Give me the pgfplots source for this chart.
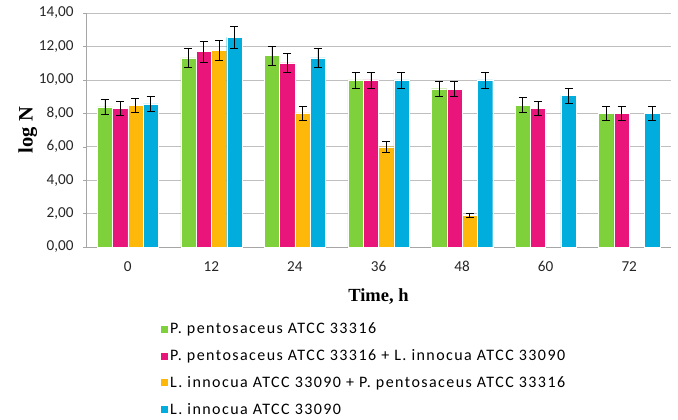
\documentclass[border=0pt]{standalone}
\usepackage{pgfplots}
\pgfplotsset{compat=1.18}
\usepackage{fontspec}
\setmainfont{Carlito}
\newfontfamily\titlefont{Liberation Serif}
\newfontfamily\legfont[LetterSpace=9]{Carlito}
\definecolor{cgreen}{HTML}{7FD13B}
\definecolor{cpink}{HTML}{EA157A}
\definecolor{cyellow}{HTML}{FEB80A}
\definecolor{cblue}{HTML}{00ADDC}
\definecolor{gridgray}{HTML}{BFBFBF}
\definecolor{axgray}{HTML}{A6A6A6}
\begin{document}
\begin{tikzpicture}
\useasboundingbox (-86bp,-173bp) rectangle (592bp,247bp);
\begin{axis}[
  at={(0,0)}, anchor=south west,
  scale only axis, width=585bp, height=234bp,
  ybar=0pt, bar width=15.3bp,
  xmin=-0.5, xmax=6.5, ymin=0, ymax=14,
  xtick={0,1,2,3,4,5,6},
  xticklabels={0,12,24,36,48,60,72},
  extra x ticks={-0.5,0.5,1.5,2.5,3.5,4.5,5.5,6.5},
  extra x tick labels={},
  extra x tick style={major tick length=6bp, tick style={axgray}, grid=none},
  major x tick style={draw=none},
  ytick={0,2,4,6,8,10,12,14},
  axis x line*=bottom, axis y line*=left,
  axis line style={axgray, line width=0.6pt, -},
  tick align=outside,
  major tick length=3bp,
  ytick style={axgray},
  ymajorgrids, grid style={gridgray, line width=0.7pt},
  /pgf/number format/assume math mode=true,
  yticklabel style={/pgf/number format/.cd, fixed, fixed zerofill, precision=2, use comma, /tikz/.cd, xshift=-6bp},
  xticklabel style={yshift=-8bp},
  every tick label/.append style={font=\fontsize{15.2bp}{18bp}\selectfont, color=black!85},
  ylabel={\titlefont\bfseries log N},
  xlabel={\titlefont\bfseries Time, h},
  ylabel style={yshift=-5bp, font=\fontsize{20.5bp}{23bp}\selectfont},
  xlabel style={yshift=-1bp, font=\fontsize{18.5bp}{21bp}\selectfont},
  legend style={at={(0,0)}, anchor=north west, xshift=72bp, yshift=-72bp, draw=none,
    font=\fontsize{16bp}{18bp}\legfont,
    nodes={font=\fontsize{16bp}{18bp}\legfont},
    row sep=10.3bp,
    /tikz/every even column/.append style={column sep=8bp}},
  legend cell align=left,
  legend image code/.code={\fill[#1,draw=none] (0bp,-3.5bp) rectangle (7bp,3.5bp);},
  error bars/y dir=both, error bars/y explicit,
  error bars/error bar style={black, line width=0.6pt},
  error bars/error mark options={rotate=90, mark size=4bp, line width=0.6pt, black},
]
\addplot[fill=cgreen, draw=white, line width=0.3pt] coordinates {
 (0,8.38) +- (0,0.43) (1,11.31) +- (0,0.55) (2,11.45) +- (0,0.57) (3,10.0) +- (0,0.48)
 (4,9.47) +- (0,0.46) (5,8.48) +- (0,0.45) (6,8.0) +- (0,0.41)};
\addplot[fill=cpink, draw=white, line width=0.3pt] coordinates {
 (0,8.30) +- (0,0.42) (1,11.69) +- (0,0.62) (2,11.01) +- (0,0.56) (3,10.0) +- (0,0.48)
 (4,9.45) +- (0,0.46) (5,8.30) +- (0,0.42) (6,8.0) +- (0,0.41)};
\addplot[fill=cyellow, draw=white, line width=0.3pt] coordinates {
 (0,8.46) +- (0,0.42) (1,11.77) +- (0,0.58) (2,8.02) +- (0,0.41) (3,6.0) +- (0,0.32)
 (4,1.91) +- (0,0.12)};
\addplot[fill=cblue, draw=white, line width=0.3pt] coordinates {
 (0,8.56) +- (0,0.43) (1,12.54) +- (0,0.66) (2,11.31) +- (0,0.55) (3,10.0) +- (0,0.48)
 (4,10.0) +- (0,0.48) (5,9.07) +- (0,0.45) (6,8.0) +- (0,0.41)};
\legend{P. pentosaceus ATCC 33316,
P. pentosaceus ATCC 33316 + L. innocua ATCC 33090,
L. innocua ATCC 33090 + P. pentosaceus ATCC 33316,
L. innocua ATCC 33090}
\end{axis}
\end{tikzpicture}
\end{document}
